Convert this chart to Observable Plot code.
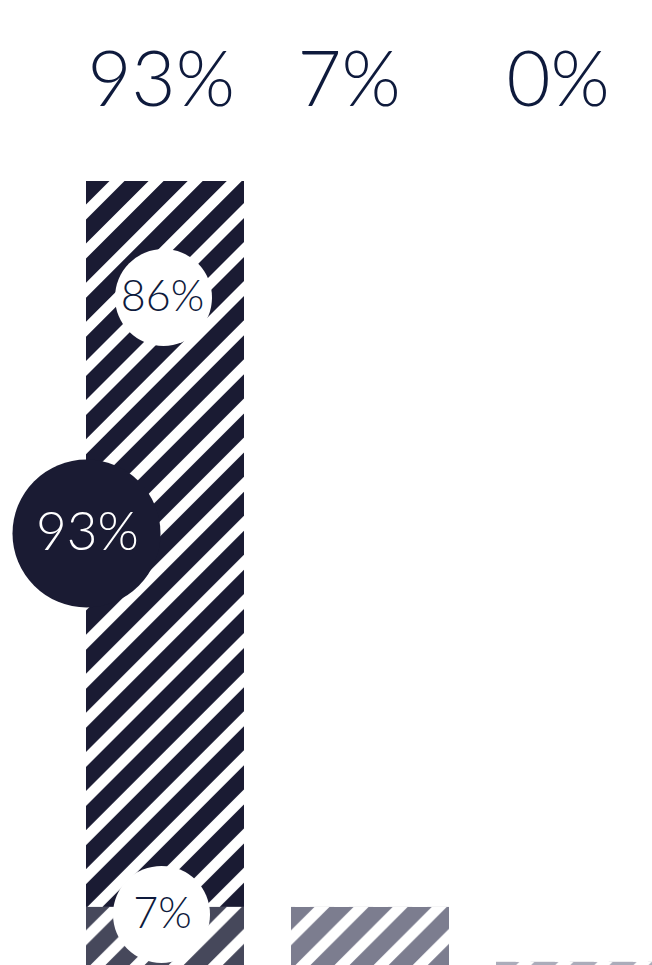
<!DOCTYPE html>
<html>
<head>
<meta charset="utf-8">
<script src="https://cdn.jsdelivr.net/npm/d3@7"></script>
<script src="https://cdn.jsdelivr.net/npm/@observablehq/plot@0.6"></script>
<style>
  html, body { margin: 0; padding: 0; background: #ffffff; overflow: hidden; }
  #chart svg { display: block; overflow: hidden; }
</style>
</head>
<body>
<div id="chart"></div>
<script>
// ---- data ----
const categories = ["Option 1", "Option 2", "Option 3"];
const totalLabels = ["93%", "7%", "0%"];

// stacked segments (bottom first)
const segmentCategory = ["Option 1", "Option 1", "Option 2", "Option 3"];
const segmentValues   = [7, 86, 7, 0.5];
const segmentPattern  = ["low", "main", "mid", "light"];

// circle annotations
const circleLabels = ["86%", "93%", "7%"];

// ---- styles ----
const patternColors = { main: "#1a1b33", low: "#46485b", mid: "#7c7d8f", light: "#abacba" };
const navyText = "#0e1a3c";
const labelNudge = [-78, -73, -69];

const segments = segmentValues.map((v, i) => ({
  cat: segmentCategory[i], value: v, pattern: `url(#stripe-${segmentPattern[i]})`
}));
const barTotal = d3.rollup(segments, g => d3.sum(g, d => d.value), d => d.cat);

function defs() {
  const ns = "http://www.w3.org/2000/svg";
  const g = document.createElementNS(ns, "defs");
  const period = 39.1, w0 = 23.5, w1 = 38.5, H = 1200;
  let d = "";
  for (let c = -period; c < 1400; c += period) {
    const a = c + w0, b = c + w1;
    d += `M${a},0L${b},0L${b - H},${H}L${a - H},${H}Z`;
  }
  for (const [key, col] of Object.entries(patternColors)) {
    const p = document.createElementNS(ns, "pattern");
    p.setAttribute("id", `stripe-${key}`);
    p.setAttribute("patternUnits", "objectBoundingBox");
    p.setAttribute("patternContentUnits", "userSpaceOnUse");
    p.setAttribute("x", 0); p.setAttribute("y", 0);
    p.setAttribute("width", 1); p.setAttribute("height", 1);
    const r = document.createElementNS(ns, "rect");
    r.setAttribute("width", 2000); r.setAttribute("height", 2000); r.setAttribute("fill", col);
    const path = document.createElementNS(ns, "path");
    path.setAttribute("d", d); path.setAttribute("fill", "#ffffff");
    p.appendChild(r); p.appendChild(path);
    g.appendChild(p);
  }
  return g;
}

const font = "Lato, 'Noto Sans', sans-serif";
const first = categories[0];
const ymax = barTotal.get(first);

const topLabels = categories.map((c, i) => Plot.text([c], {
  x: d => d, text: () => totalLabels[i],
  frameAnchor: "top", textAnchor: "start", dx: labelNudge[i], dy: 52,
  fontSize: 76, fontWeight: 300, fontFamily: font, fill: navyText
}));

const chart = Plot.plot({
  width: 652,
  height: 965,
  margin: 0,
  x: { type: "band", domain: categories, range: [86, 654], paddingInner: 47 / 205, paddingOuter: 0, axis: null },
  y: { domain: [0, ymax], range: [966, 181], axis: null },
  color: { type: "identity" },
  marks: [
    defs,
    Plot.barY(segments, { x: "cat", y: "value", fill: "pattern" }),
    ...topLabels,
    // 86% circle (top of main segment)
    Plot.dot([first], { x: d => d, y: () => ymax, dx: -2, dy: 116, r: 48.5, fill: "#ffffff" }),
    Plot.text([first], { x: d => d, y: () => ymax, dx: -3, dy: 116, text: () => circleLabels[0],
      fontSize: 43, fontWeight: 300, fontFamily: font, fill: navyText }),
    // 93% circle (at bar's left edge)
    Plot.dot([first], { x: d => d, y: () => ymax, dx: -79, dy: 352, r: 74, fill: patternColors.main }),
    Plot.text([first], { x: d => d, y: () => ymax, dx: -78, dy: 352, text: () => circleLabels[1],
      fontSize: 53, fontWeight: 300, fontFamily: font, fill: "#ffffff" }),
    // 7% circle (top of low segment)
    Plot.dot([first], { x: d => d, y: () => segmentValues[0], dx: -4, dy: 7, r: 48.5, fill: "#ffffff" }),
    Plot.text([first], { x: d => d, y: () => segmentValues[0], dx: -3, dy: 7, text: () => circleLabels[2],
      fontSize: 43, fontWeight: 300, fontFamily: font, fill: navyText })
  ]
});
document.getElementById("chart").appendChild(chart);
</script>
</body>
</html>
